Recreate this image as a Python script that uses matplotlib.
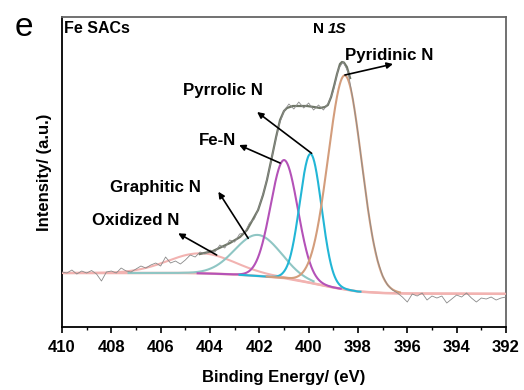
import numpy as np
import matplotlib
matplotlib.use('Agg')
import matplotlib.pyplot as plt

plt.rcParams['font.family'] = ['Liberation Sans', 'DejaVu Sans']
plt.rcParams['font.weight'] = 'bold'

# raw spectrum, 410 -> 392 eV, 0.2 eV step
be = np.linspace(410, 392, 91)
raw = [55, 54, 57, 53, 56, 54, 56.5, 53, 46, 55,
       56, 54, 59, 56, 55, 58, 61, 59, 62, 64,
       61, 70, 64, 66, 63, 67, 72, 70, 75, 73,
       77, 75, 82, 79, 87, 85, 93, 94, 104, 108,
       121, 137, 157, 180, 202, 216, 223, 218, 225, 219,
       224, 217, 222, 217, 224, 236, 258, 265, 255, 227,
       194, 155, 119, 88, 66, 51, 42, 37, 34, 30,
       25, 33, 31, 34, 27, 31, 29, 31, 24, 28,
       32, 30, 34, 29, 25, 29, 28, 30, 27, 29, 30]

# fitted envelope
env_be = [404.41, 403.88, 403.19, 402.78, 402.50, 402.05, 401.85, 401.69, 401.49, 401.32,
          401.16, 401.00, 400.88, 400.64, 400.35, 400.07, 399.78, 399.54, 399.34, 399.22,
          399.09, 398.97, 398.85, 398.73, 398.65, 398.57, 398.45, 398.32]
env_int = [73, 76, 84, 90, 97, 117, 132, 147, 170, 190,
           207, 216, 219, 221, 221, 221, 220, 219, 220, 222,
           230, 241, 253, 263, 265, 264.5, 260, 249]

# Shirley background
bg_be = [410, 405, 404, 403, 402, 401, 400, 399, 398, 397, 396, 392]
bg_int = [54, 54, 53.5, 52.5, 51, 49, 44.5, 39.5, 35.5, 34, 33.5, 33.2]

# components
names = ['Oxidized N', 'Graphitic N', 'Fe-N', 'Pyrrolic N', 'Pyridinic N']
centers = [404.35, 402.06, 400.99, 399.92, 398.53]
heights = [20, 41, 118, 129, 214]
fwhms = [3.2, 2.2, 1.3, 1.04, 1.6]
win_hi = [410, 407.3, 404.5, 402.8, 401.7]
win_lo = [392, 399.8, 398.7, 397.9, 396.3]
colors = ['#f2b3b1', '#8fc6c4', '#b452b8', '#22b6d6', '#d39d7c']

fig = plt.figure(figsize=(5.24, 3.9), dpi=100)
ax = fig.add_axes([0.1183, 0.1615, 0.8473, 0.7949])

xf = np.linspace(410, 392, 1801)
bgf = np.interp(xf, bg_be[::-1], bg_int[::-1])
ax.plot(bg_be, bg_int, color='#f2b3b1', lw=1.8, zorder=2)
for c, h, w, hi, lo, col in zip(centers, heights, fwhms, win_hi, win_lo, colors):
    sig = w / 2.3548
    m = (xf <= hi) & (xf >= lo)
    y = bgf + h * np.exp(-(xf - c) ** 2 / (2 * sig ** 2))
    ax.plot(xf[m], y[m], color=col, lw=1.5, zorder=3)

ax.plot(env_be, env_int, color='#6f7767', lw=1.6, zorder=4)
ax.plot(be, raw, color='#8a8a8a', lw=0.6, zorder=5)

# labels + arrows (tail at peak, head near text)
txt_pos = [(408.78, 107), (408.05, 140), (404.45, 187), (405.09, 237), (398.53, 272)]
arr_tail = [(403.73, 72), (402.45, 88.7), (401.16, 164), (399.88, 173.7), (398.53, 252)]
arr_head = [(405.29, 93.7), (403.66, 135.3), (402.82, 182), (402.09, 215), (396.58, 263)]
for n, tp, t, hd in zip(names, txt_pos, arr_tail, arr_head):
    ax.text(tp[0], tp[1], n, fontsize=12.2, fontweight='bold', ha='left', va='center', zorder=6)
    ax.annotate('', xy=hd, xytext=t,
                arrowprops=dict(arrowstyle='-|>', color='black', lw=1.2, mutation_scale=9,
                                shrinkA=0, shrinkB=0), zorder=6)

ax.text(0.004, 0.962, 'Fe SACs', transform=ax.transAxes, fontsize=11.5, fontweight='bold',
        ha='left', va='center')
ax.text(0.599, 0.962, 'N ', transform=ax.transAxes, fontsize=11, fontweight='bold',
        ha='right', va='center')
ax.text(0.599, 0.962, '1S', transform=ax.transAxes, fontsize=11, fontweight='bold',
        style='italic', ha='left', va='center')
fig.text(24 / 524, 1 - 28 / 390, 'e', fontsize=24, fontweight='normal', ha='center', va='center')

ax.set_xlim(410, 392)
ax.set_ylim(0, 310)
ax.set_xticks(np.arange(410, 391, -2))
ax.set_xticks(np.arange(409, 392, -2), minor=True)
ax.set_yticks([])
ax.tick_params(axis='x', which='major', length=4, width=1.2, labelsize=12, pad=5)
ax.tick_params(axis='x', which='minor', length=2.5, width=1.0)
for lab in ax.get_xticklabels():
    lab.set_fontweight('bold')
for s in ['left', 'bottom']:
    ax.spines[s].set_linewidth(1.3)
for s in ['top', 'right']:
    ax.spines[s].set_linewidth(1.3)
    ax.spines[s].set_color('#666666')
ax.set_xlabel('Binding Energy/ (eV)', fontsize=12, fontweight='bold', labelpad=11)
ax.set_ylabel('Intensity/ (a.u.)', fontsize=12, fontweight='bold', labelpad=7)

fig.savefig('out.png', dpi=100)
